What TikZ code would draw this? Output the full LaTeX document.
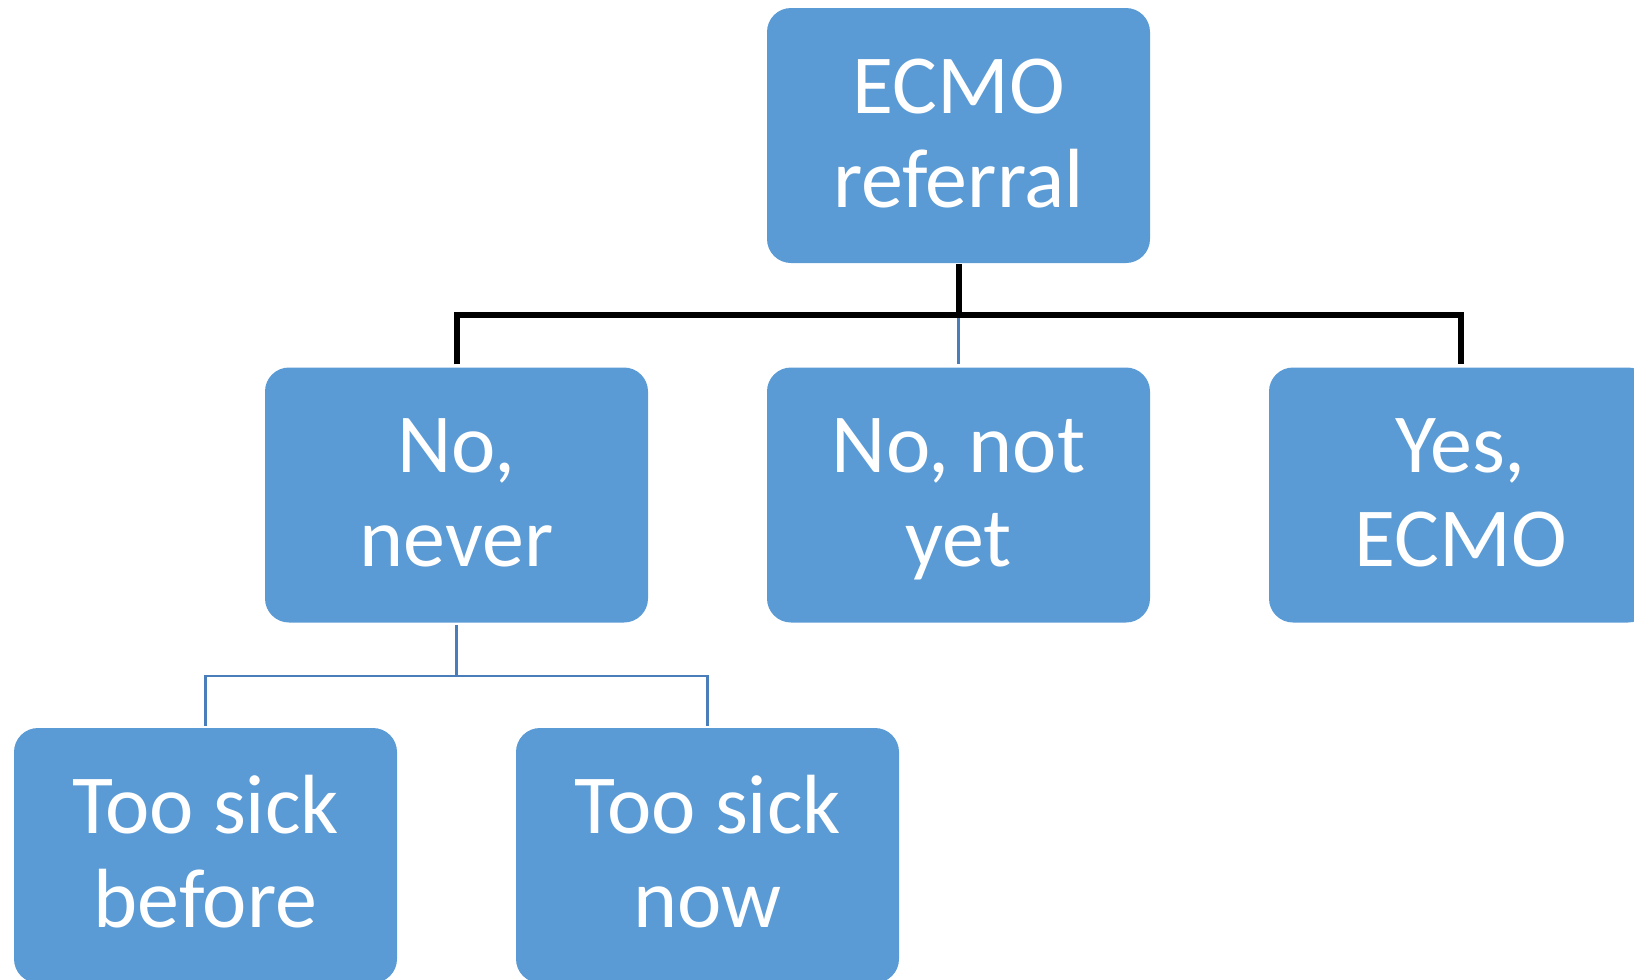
\documentclass[tikz,border=0pt]{standalone}
\usepackage{fontspec}
\setmainfont{Carlito}
\definecolor{boxfill}{HTML}{5B9BD5}
\definecolor{linkblue}{HTML}{4A7EBB}
% two-line label with fixed first-line height and last-line depth
\newcommand{\twoline}[2]{\rule{0pt}{66pt}#1\\#2\rule[-17pt]{0pt}{17pt}}
\tikzset{
  card/.style={draw=none, fill=boxfill, rounded corners=24pt,
    minimum width=383pt, minimum height=255pt, inner sep=0pt,
    text=white, align=center, font=\fontsize{84}{94}\selectfont},
  bus/.style={draw=black, line width=6pt},
  link/.style={draw=linkblue, line width=2.5pt},
}
\begin{document}
\begin{tikzpicture}[x=1pt, y=-1pt]
  \useasboundingbox (0,0) rectangle (1634,980);
  \clip (0,0) rectangle (1634,980);

  % top level
  \node[card] (ref) at (958.5,135.5) {\twoline{ECMO}{referral}};

  % second level
  \node[card] (nev) at (456.5,495) {\twoline{No,}{never}};
  \node[card] (yet) at (958.5,495) {\twoline{No, not}{yet}};
  \node[card] (yes) at (1460.5,495) {\twoline{Yes,}{ECMO}};

  % third level
  \node[card] (bef) at (205.5,855.5) {\twoline{Too sick}{before}};
  \node[card] (now) at (707.5,855.5) {\twoline{Too sick}{now}};

  % junction points
  \coordinate (j1) at (958.5,315);
  \coordinate (j2) at (456.5,676);

  % connectors from the referral
  \draw[bus, shorten <=1pt] (ref.south) -- (j1);
  \draw[link, shorten >=3pt] (j1) -- (yet.north);
  \draw[bus, shorten <=3pt, shorten >=3pt] (nev.north) |- (j1) -| (yes.north);

  % connectors under "No, never"
  \draw[link, shorten <=2pt] (nev.south) -- (j2);
  \draw[link, shorten <=2pt, shorten >=2pt] (bef.north) |- (j2) -| (now.north);
\end{tikzpicture}
\end{document}
